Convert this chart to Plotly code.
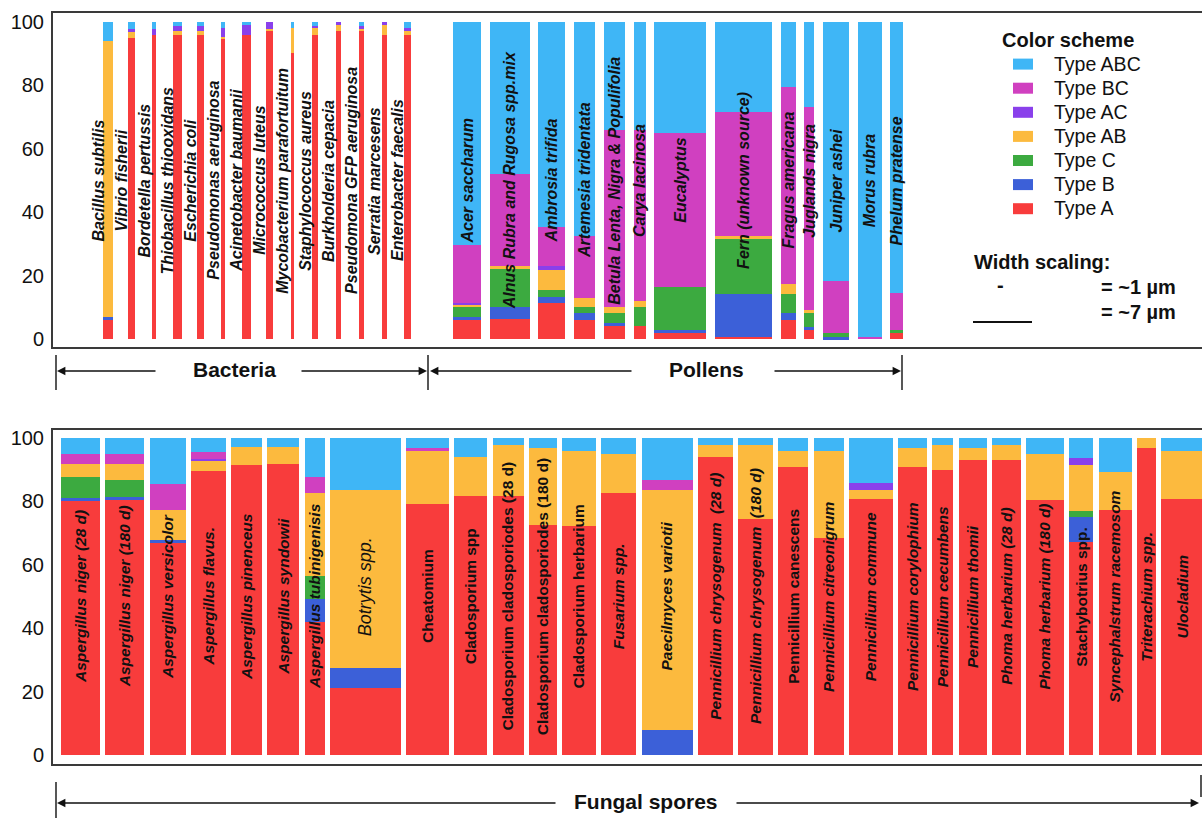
import plotly.graph_objects as go

# ---------------- data ----------------
TYPES = ["Type A", "Type B", "Type C", "Type AB", "Type AC", "Type BC", "Type ABC"]
COLORS = {"Type A": "#F83C3C", "Type B": "#3C60D8", "Type C": "#3CAA40",
          "Type AB": "#FCBA3E", "Type AC": "#8A40EB", "Type BC": "#D040C0",
          "Type ABC": "#3FB6F6"}

bacteria_names = ["Bacillus subtilis", "Vibrio fisherii", "Bordetella pertussis",
                  "Thiobacillus thiooxidans", "Escherichia coli", "Pseudomonas aeruginosa",
                  "Acinetobacter baumanii", "Micrococcus luteus", "Mycobacterium parafortuitum",
                  "Staphylococcus aureus", "Burkholderia cepacia", "Pseudomona GFP aeruginosa",
                  "Serratia marcesens", "Enterobacter faecalis"]
bacteria_size = [10, 7, 4, 9, 7, 3.5, 9, 7, 3, 6, 5, 5, 5, 7]
bacteria_A = [6, 95, 96, 96, 96, 94.5, 96, 97, 90.3, 96, 97, 97, 96, 96]
bacteria_B = [1, 0, 0, 0, 0, 0, 0, 0, 0, 0, 0, 0, 0, 0]
bacteria_C = [0, 0, 0, 0, 0, 0, 0, 0, 0, 0, 0, 0, 0, 0]
bacteria_AB = [87, 2, 0, 1, 1, 0.8, 0, 0.8, 7.9, 2, 2, 0.8, 3, 1]
bacteria_AC = [0, 0.6, 1.6, 1.8, 1.7, 2.9, 3, 2.2, 0, 0.8, 1, 1, 1, 1]
bacteria_BC = [0, 0, 0, 0, 0, 0, 0, 0, 0, 0, 0, 0, 0, 0]
bacteria_ABC = [6, 2.4, 2.4, 1.2, 1.3, 1.8, 1, 0, 1.8, 1.2, 0, 1.2, 0, 2]

pollen_names = ["Acer saccharum", "Alnus Rubra and Rugosa spp.mix", "Ambrosia trifida",
                "Artemesia tridentata", "Betula Lenta, Nigra & Populifolia", "Carya lacinosa",
                "Eucalyptus", "<i>Fern</i> (unknown source)", "Fragus americana",
                "Juglands nigra", "Juniper ashei", "Morus rubra", "Phelum pratense"]
pollen_size = [28, 40, 27, 21, 21, 12, 52, 57, 15, 10, 26, 24, 13]
pollen_A = [6, 6.2, 11.3, 6, 4.1, 4, 2, 0.7, 6, 2.8, 0, 0, 1.8]
pollen_B = [1, 4, 2.1, 2.1, 1.1, 0, 0.8, 13.5, 2.1, 1.1, 0.6, 0, 0]
pollen_C = [3.2, 11.8, 2.1, 2.1, 2.9, 6, 13.5, 17.3, 6.1, 4.2, 1.4, 0, 1]
pollen_AB = [0.8, 0.9, 6.3, 2.9, 2.1, 2, 0, 1.1, 3.2, 1.1, 0, 0, 0]
pollen_AC = [0.5, 0, 1.1, 0, 0, 0, 0, 0, 0, 0, 0, 0, 0]
pollen_BC = [18.2, 29.3, 12.3, 19.5, 55.8, 54, 48.7, 38.9, 62.2, 64, 16.4, 0.7, 11.6]
pollen_ABC = [70.3, 47.8, 64.8, 67.4, 34, 34, 35, 28.5, 20.4, 26.8, 81.6, 99.3, 85.6]

fungal_names = ["Aspergillus niger (28 d)", "Aspergillus niger (180 d)", "Aspergillus versicolor",
                "Aspergillus flavus.", "Aspergillus pinenceus", "Aspergillus syndowii",
                "Aspergillus tubinigenisis", "Botrytis spp.", "Cheatomium", "Cladosporium spp",
                "Cladosporium cladosporiodes (28 d)", "Cladosporium cladosporiodes (180 d)",
                "Cladosporium herbarium", "Fusarium spp.", "Paecilmyces variotii",
                "Pennicillium chrysogenum  (28 d)", "Pennicillium chrysogenum  (180 d)",
                "Pennicillium canescens", "Pennicillium citreonigrum", "Pennicillium commune",
                "Pennicillium corylophium", "Pennicillium cecumbens", "Pennicillium thomii",
                "Phoma herbarium (28 d)", "Phoma herbarium (180 d)", "Stachybotrius spp.",
                "Syncephalstrum racemosom", "Triterachium spp.", "Ulocladium"]
fungal_size = [39, 39, 36, 35, 31, 32, 20, 71, 43, 33, 31, 28, 34, 35, 51, 35, 35, 30, 30,
               44, 29, 21, 28, 29, 38, 24, 33, 19, 44]
fungal_A = [80.2, 80.5, 66.8, 89.7, 91.6, 91.8, 42.1, 21.3, 79.3, 81.6, 81.6, 72.6, 72.1, 82.6,
            0, 93.9, 74.4, 90.8, 68.6, 80.6, 90.8, 90, 92.9, 92.9, 80.5, 67.3, 77.3, 96.8, 80.7]
fungal_B = [0.8, 0.8, 1.1, 0, 0, 0, 7.1, 6.1, 0, 0, 0, 0, 0, 0,
            7.9, 0, 0, 0, 0, 0, 0, 0, 0, 0, 0, 7.7, 0, 0, 0]
fungal_C = [6.6, 5.3, 0, 0, 0, 0, 7.3, 0, 0, 0, 0, 0, 0, 0,
            0, 0, 0, 0, 0, 0, 0, 0, 0, 0, 0, 2, 0, 0, 0]
fungal_AB = [4.2, 5.2, 9.3, 3.1, 5.4, 5.2, 26.1, 56.3, 16.5, 12.3, 16.3, 24.2, 23.7, 12.3,
             75.8, 4, 23.5, 5, 27.2, 2.9, 6, 7.9, 3.9, 5, 14.4, 14.5, 12.1, 3.2, 15.3]
fungal_AC = [0, 0, 0, 0.5, 0, 0, 0, 0, 0, 0, 0, 0, 0, 0,
             0, 0, 0, 0, 0, 2.2, 0, 0, 0, 0, 0, 2.1, 0, 0, 0]
fungal_BC = [3.2, 3.2, 8.3, 2.4, 0, 0, 5, 0, 1, 0, 0, 0, 0, 0,
             3.1, 0, 0, 0, 0, 0, 0, 0, 0, 0, 0, 0, 0, 0, 0]
fungal_ABC = [5, 5, 14.5, 4.3, 3, 3, 12.4, 16.3, 3.2, 6.1, 2.1, 3.2, 4.2, 5.1,
              13.2, 2.1, 2.1, 4.2, 4.2, 14.3, 3.2, 2.1, 3.2, 2.1, 5.1, 6.4, 10.6, 0, 4]

bacteria = dict(zip(TYPES, [bacteria_A, bacteria_B, bacteria_C, bacteria_AB, bacteria_AC, bacteria_BC, bacteria_ABC]))
pollen = dict(zip(TYPES, [pollen_A, pollen_B, pollen_C, pollen_AB, pollen_AC, pollen_BC, pollen_ABC]))
fungal = dict(zip(TYPES, [fungal_A, fungal_B, fungal_C, fungal_AB, fungal_AC, fungal_BC, fungal_ABC]))

# ---------------- layout helpers ----------------
W, H = 1202, 820
LEFT = 53
FONT = "Arial, Liberation Sans, sans-serif"
FRAME = "#3a3a3a"


def py(p):
    return 1 - p / H


def packed(widths, start, gap):
    xs, left = [], start
    for w in widths:
        xs.append(left + w / 2)
        left += w + gap
    return xs


bact_x = [108 + 23.04 * i for i in range(len(bacteria_names))]
pollen_x = packed(pollen_size, 453, 8.7)
fungal_x = packed(fungal_size, 61, 5.25)

fig = go.Figure()
for t in TYPES:
    fig.add_trace(go.Bar(
        name=t, x=bact_x + pollen_x, y=bacteria[t] + pollen[t],
        width=bacteria_size + pollen_size, marker=dict(color=COLORS[t], line=dict(width=0)),
        xaxis="x", yaxis="y", showlegend=False))
for t in TYPES:
    fig.add_trace(go.Bar(
        name=t, x=fungal_x, y=fungal[t], width=fungal_size,
        marker=dict(color=COLORS[t], line=dict(width=0)),
        xaxis="x2", yaxis="y2", showlegend=False))

ann = []
shapes = []


def note(text, x, ypix, font, xanchor="center"):
    ann.append(dict(text=text, x=x, y=py(ypix), xref="x", yref="paper", xanchor=xanchor,
                    yanchor="middle", showarrow=False, font=font))


top_font = dict(family=FONT, size=16, color="#111", weight="bold", style="italic")
label_font = dict(family=FONT, size=15.5, color="#111", weight="bold", style="italic")
for name, x in zip(bacteria_names, bact_x):
    ann.append(dict(text=name, x=x, y=50, xref="x", yref="y", xshift=-10, textangle=-90,
                    xanchor="center", yanchor="middle", showarrow=False, font=top_font))
for name, x in zip(pollen_names, pollen_x):
    ann.append(dict(text=name, x=x, y=50, xref="x", yref="y", textangle=-90,
                    xanchor="center", yanchor="middle", showarrow=False, font=top_font))
upright = {"Cheatomium", "Cladosporium spp", "Cladosporium cladosporiodes (28 d)",
           "Cladosporium cladosporiodes (180 d)", "Cladosporium herbarium",
           "Pennicillium canescens", "Stachybotrius spp."}
for name, x in zip(fungal_names, fungal_x):
    f = dict(label_font)
    yv = 50
    if name in upright:
        f["style"] = "normal"
    if name == "Botrytis spp.":
        f.update(size=18, weight="normal")
        yv = 53
    ann.append(dict(text=name.replace("  ", "&nbsp;&nbsp;"), x=x, y=yv, xref="x2", yref="y2",
                    textangle=-90, xanchor="center", yanchor="middle", showarrow=False, font=f))

# group brackets
grp_font = dict(family=FONT, size=21, color="#111", weight="bold")
arrows = [(57, 157, 371), (427, 300, 371), (430, 633, 371), (901, 773, 371),
          (57, 557, 803), (1199, 735, 803)]
for head, tail, yy in arrows:
    ann.append(dict(text="", x=head, y=py(yy), xref="x", yref="paper", ax=tail - head, ay=0,
                    axref="pixel", ayref="pixel", showarrow=True, arrowhead=2, arrowsize=1.2,
                    arrowwidth=1.4, arrowcolor="#111", standoff=0, startstandoff=0))
note("Bacteria", 234, 370, grp_font)
note("Pollens", 706, 370, grp_font)
note("Fungal spores", 646, 801, grp_font)

for xx, y0, y1 in [(56, 355, 390), (428, 355, 390), (902, 355, 390), (56, 782, 818), (1201, 775, 797)]:
    shapes.append(dict(type="line", xref="x", yref="paper", x0=xx, x1=xx, y0=py(y0), y1=py(y1),
                       line=dict(color="#111", width=1.4)))

# colour-scheme key (drawn as swatches + text)
note("<b>Color scheme</b>", 1000, 40, dict(family=FONT, size=20, color="#111"), "left")
key_rows = [40 + 24.1 * (i + 1) for i in range(len(TYPES))]
for t, yc in zip(reversed(TYPES), key_rows):
    shapes.append(dict(type="rect", xref="x", yref="paper", x0=1013, x1=1033,
                       y0=py(yc + 5.5), y1=py(yc - 5.5), fillcolor=COLORS[t], line=dict(width=0)))
    note(t, 1052, yc - 0.5, dict(family=FONT, size=19.5, color="#111"), "left")

# width scaling note
ws_font = dict(family=FONT, size=20, color="#111", weight="bold")
note("Width scaling:", 972, 262, ws_font, "left")
note("-", 1000, 285, ws_font)
note("= ~1 µm", 1099, 287, ws_font, "left")
note("= ~7 µm", 1099, 312, ws_font, "left")
shapes.append(dict(type="line", xref="x", yref="paper", x0=973, x1=1032, y0=py(322), y1=py(322),
                   line=dict(color="#111", width=2)))

axis_common = dict(showline=True, linecolor=FRAME, linewidth=2, showgrid=False, zeroline=False,
                   fixedrange=True, automargin=False)
fig.update_layout(
    width=W, height=H, margin=dict(l=LEFT, r=0, t=0, b=0),
    paper_bgcolor="white", plot_bgcolor="white", barmode="stack",
    font=dict(family=FONT, color="#111"),
    xaxis=dict(domain=[0, 1], range=[LEFT, W], anchor="y", mirror=True, showticklabels=False,
               ticks="", **axis_common),
    yaxis=dict(domain=[py(347), py(13)], range=[-2.5, 102.8], anchor="x", tickvals=[0, 20, 40, 60, 80, 100],
               ticks="", tickfont=dict(size=20, color="#111"), ticklabelstandoff=3, **axis_common),
    xaxis2=dict(domain=[0, 1], range=[LEFT, W], anchor="y2", mirror=True, showticklabels=False,
                ticks="", **axis_common),
    yaxis2=dict(domain=[py(764), py(430)], range=[-2.8, 102.5], anchor="x2", tickvals=[0, 20, 40, 60, 80, 100],
                ticks="", tickfont=dict(size=20, color="#111"), ticklabelstandoff=3, **axis_common),
    annotations=ann, shapes=shapes, showlegend=False,
)

fig.write_html("out.html", config={"displayModeBar": False},
               post_script="document.body.style.margin='0';document.body.style.overflow='hidden';")
